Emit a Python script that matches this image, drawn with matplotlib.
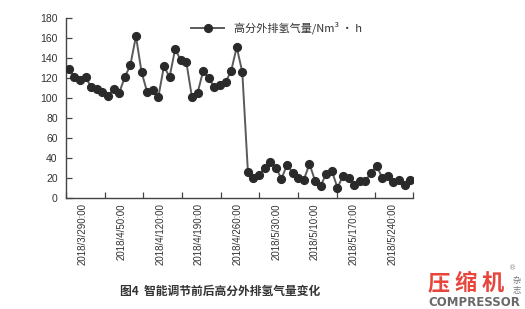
import matplotlib
matplotlib.use("Agg")
import matplotlib.pyplot as plt
import numpy as np

# ---- data ----
values = [129, 121, 118, 121, 111, 109, 106, 102, 109, 105, 121, 133, 162, 126, 106, 108,
          101, 132, 121, 149, 138, 136, 101, 105, 127, 120, 111, 113, 116, 127, 151, 126,
          26, 20, 23, 30, 36, 30, 19, 33, 25, 20, 18, 34, 17, 12, 24, 27,
          10, 22, 20, 13, 17, 17, 25, 32, 20, 22, 16, 18, 13, 18]
tick_labels = ["2018/3/290:00", "2018/4/50:00", "2018/4/120:00", "2018/4/190:00",
               "2018/4/260:00", "2018/5/30:00", "2018/5/10:00", "2018/5/170:00",
               "2018/5/240:00"]
series_name = "高分外排氢气量/Nm³ · h"
caption = "图4  智能调节前后高分外排氢气量变化"
y_ticks = [0, 20, 40, 60, 80, 100, 120, 140, 160, 180]

CJK = ["Noto Sans CJK SC", "DejaVu Sans"]
LAT = ["Liberation Sans", "DejaVu Sans"]

W, H = 525, 309
fig = plt.figure(figsize=(W / 100, H / 100), dpi=100)
ax = fig.add_axes([66 / W, 1 - 197.7 / H, (413 - 66) / W, (197.7 - 18.3) / H])

n = len(values)
x = np.arange(n) + 0.5
ax.plot(x, values, color="#5a5a5a", lw=1.4, marker="o", markersize=5.6,
        markerfacecolor="#2a2a2a", markeredgecolor="#2a2a2a", label=series_name, zorder=3)

ax.set_xlim(0, n)
ax.set_ylim(0, 180)
ax.set_yticks(y_ticks)
ax.set_yticklabels([str(v) for v in y_ticks], fontfamily=LAT, fontsize=7.5, color="#333333")

step = n / 8.97
major = [i * step for i in range(len(tick_labels))] + [n]
ax.set_xticks(major)
ax.set_xticklabels([])
centers = [i * step + step / 2 - 0.45 for i in range(len(tick_labels))]
ax.set_xticks(centers, minor=True)
ax.set_xticklabels(tick_labels, minor=True, rotation=90, fontfamily=LAT,
                   fontsize=7, color="#333333", va="top")
ax.tick_params(axis="x", which="minor", length=0, pad=4)
ax.tick_params(axis="x", which="major", direction="in", length=4, width=0.9, color="#444444")
ax.tick_params(axis="y", direction="in", length=4, width=0.9, color="#444444", pad=6)

for s in ["top", "right"]:
    ax.spines[s].set_visible(False)
for s in ["left", "bottom"]:
    ax.spines[s].set_color("#444444")
    ax.spines[s].set_linewidth(1.0)

leg = ax.legend(loc="center left", bbox_to_anchor=(191 / W, 1 - 28 / H),
                bbox_transform=fig.transFigure, frameon=False, handlelength=3.0,
                handletextpad=0.9, borderpad=0, borderaxespad=0,
                prop={"family": CJK, "size": 8})
for t in leg.get_texts():
    t.set_color("#333333")

fig.text(220 / W, 1 - 291 / H, caption, ha="center", va="center", fontsize=8.5,
         fontfamily=CJK, fontweight="bold", color="#333333")

# logo
for ch, cx in zip("压缩机", [439, 466, 493]):
    fig.text(cx / W, 1 - 284 / H, ch, ha="center", va="center", fontsize=16,
             fontfamily=CJK, fontweight="bold", color="#e8453c")
fig.text(513 / W, 1 - 268 / H, "®", ha="center", va="center", fontsize=5,
         fontfamily=["DejaVu Sans"], color="#888888")
fig.text(517 / W, 1 - 280 / H, "杂", ha="center", va="center", fontsize=6,
         fontfamily=CJK, color="#777777")
fig.text(517 / W, 1 - 290 / H, "志", ha="center", va="center", fontsize=6,
         fontfamily=CJK, color="#777777")
fig.text(474 / W, 1 - 303 / H, "COMPRESSOR", ha="center", va="center", fontsize=8.5,
         fontfamily=["DejaVu Sans"], fontweight="bold", color="#6a6a6a")

fig.savefig("out.png", dpi=100, facecolor="white")
